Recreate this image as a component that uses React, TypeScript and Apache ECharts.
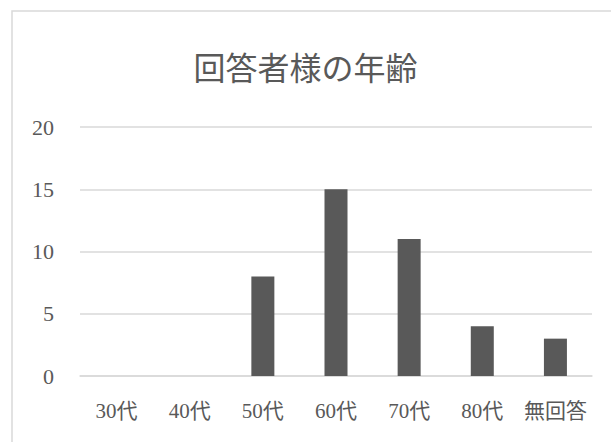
import React, { useEffect, useRef } from "react";
import * as echarts from "echarts";

const categories = ["30代", "40代", "50代", "60代", "70代", "80代", "無回答"];
const counts = [0, 0, 8, 15, 11, 4, 3];
const titleText = "回答者様の年齢";

const FONT = '"Liberation Serif", "Noto Sans CJK JP", serif';

export default function App() {
  const ref = useRef<HTMLDivElement>(null);
  useEffect(() => {
    if (!ref.current) return;
    const chart = echarts.init(ref.current, null, { renderer: "svg" });
    chart.setOption({
      animation: false,
      backgroundColor: "#ffffff",
      textStyle: { fontFamily: FONT },
      title: {
        text: titleText,
        left: "center",
        top: 48,
        textStyle: { fontFamily: FONT, fontSize: 32, fontWeight: "normal", color: "#595959" },
      },
      graphic: [
        {
          type: "rect",
          shape: { x: 12, y: 11, width: 640, height: 480 },
          style: { fill: "none", stroke: "#d9d9d9", lineWidth: 1.5 },
          silent: true,
          z: -1,
        },
      ],
      grid: { left: 80, right: 19, top: 127, bottom: 66, containLabel: false },
      xAxis: {
        type: "category",
        data: categories,
        axisLine: { show: true, lineStyle: { color: "#d9d9d9", width: 1.5 } },
        axisTick: { show: false },
        axisLabel: { fontFamily: FONT, fontSize: 21, color: "#595959", margin: 24, interval: 0 },
      },
      yAxis: {
        type: "value",
        min: 0,
        max: 20,
        interval: 5,
        axisLine: { show: false },
        axisTick: { show: false },
        splitLine: { lineStyle: { color: "#d9d9d9", width: 1.5 } },
        axisLabel: { fontFamily: FONT, fontSize: 22, color: "#595959", margin: 26 },
      },
      series: [
        {
          type: "bar",
          data: counts,
          barWidth: 23,
          itemStyle: { color: "#595959" },
        },
      ],
    });
    return () => chart.dispose();
  }, []);
  return (
    <div
      ref={ref}
      style={{ position: "fixed", left: 0, top: 0, width: 611, height: 442 }}
    />
  );
}
